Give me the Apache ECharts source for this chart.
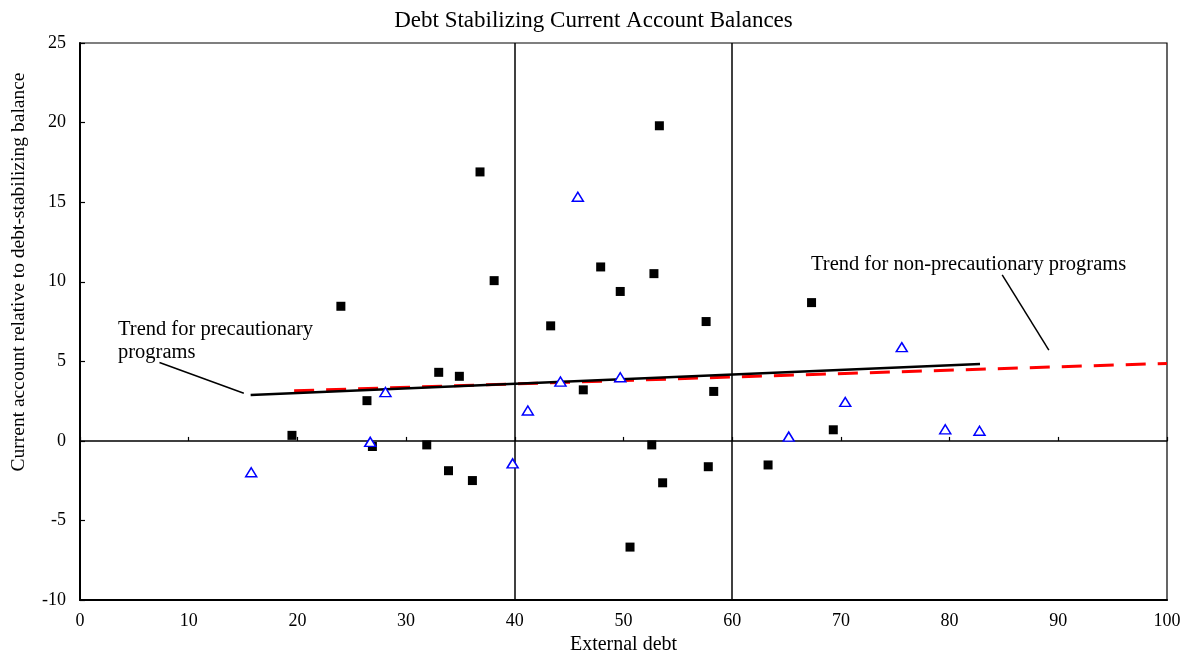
<!DOCTYPE html>
<html>
<head>
<meta charset="utf-8">
<script src="https://cdn.jsdelivr.net/npm/echarts@6/dist/echarts.min.js"></script>
<style>
  html, body { margin: 0; padding: 0; background: #fff; }
  #chart { width: 1187px; height: 660px; }
</style>
</head>
<body>
<div id="chart"></div>
<script>
// Non-precautionary programs (filled squares)
const nonPrecX = [19.5, 24.0, 26.4, 26.9, 31.9, 33.0, 33.9, 34.9, 36.1, 36.8, 38.1, 43.3, 46.3, 47.9, 49.7, 50.6, 52.6, 52.8, 53.3, 53.6, 57.6, 57.8, 58.3, 63.3, 67.3, 69.3];
const nonPrecY = [0.35, 8.46, 2.53, -0.35, -0.25, 4.31, -1.87, 4.06, -2.49, 16.9, 10.07, 7.23, 3.21, 10.93, 9.39, -6.67, -0.25, 10.51, 19.8, -2.63, 7.5, -1.62, 3.11, -1.51, 8.69, 0.70];

// Precautionary programs (open triangles)
const precX = [15.75, 26.7, 28.1, 39.8, 41.2, 44.2, 45.8, 49.7, 65.2, 70.4, 75.6, 79.6, 82.75];
const precY = [-1.97, -0.06, 3.07, -1.41, 1.91, 3.73, 15.34, 4.0, 0.27, 2.45, 5.89, 0.73, 0.64];

// Fitted trends
const precTrendX = [15.7, 82.8];
const precTrendY = [2.88, 4.83];
const nonPrecTrendX = [19.7, 100];
const nonPrecTrendY = [3.15, 4.87];

// Axis setup
const xTicks = { min: 0, max: 100, interval: 10 };
const yTicks = { min: -10, max: 25, interval: 5 };
const dividers = [40, 60];

const zip = (xs, ys) => xs.map((x, i) => [x, ys[i]]);
const FONT = '"Liberation Serif", "Times New Roman", serif';

const chart = echarts.init(document.getElementById('chart'), null, { renderer: 'canvas', width: 1187, height: 660 });

chart.setOption({
  backgroundColor: '#fff',
  animation: false,
  title: {
    text: 'Debt Stabilizing Current Account Balances',
    left: 'center',
    top: 4,
    textStyle: { fontFamily: FONT, fontSize: 23, fontWeight: 'normal', color: '#000' }
  },
  grid: {
    left: 80, width: 1087, top: 43, height: 563,
    show: true, borderColor: '#000', borderWidth: 1.2, backgroundColor: 'transparent'
  },
  xAxis: [
    {
      type: 'value', min: xTicks.min, max: xTicks.max, interval: xTicks.interval,
      position: 'bottom',
      name: 'External debt', nameLocation: 'middle', nameGap: 33,
      nameTextStyle: { fontFamily: FONT, fontSize: 20, color: '#000' },
      axisLine: { onZero: false, lineStyle: { color: '#000', width: 2 } },
      axisTick: { show: false },
      axisLabel: { fontFamily: FONT, fontSize: 18, color: '#000', margin: 12 },
      splitLine: { show: false }
    },
    {
      // zero line carrying the x ticks
      type: 'value', min: xTicks.min, max: xTicks.max, interval: xTicks.interval,
      position: 'top',
      axisLine: { onZero: true, lineStyle: { color: '#000', width: 1.5 } },
      axisTick: { show: true, length: 4, lineStyle: { color: '#000', width: 1.2 } },
      axisLabel: { show: false },
      splitLine: { show: false }
    }
  ],
  yAxis: {
    type: 'value', min: yTicks.min, max: yTicks.max, interval: yTicks.interval,
    axisLine: { onZero: false, lineStyle: { color: '#000', width: 2 } },
    axisTick: { show: true, inside: true, length: 5, lineStyle: { color: '#000', width: 1.2 } },
    axisLabel: { fontFamily: FONT, fontSize: 18, color: '#000', margin: 14 },
    splitLine: { show: false }
  },
  graphic: [
    {
      type: 'text', x: 19, y: 272, rotation: Math.PI / 2,
      style: {
        text: 'Current account relative to debt-stabilizing balance',
        fontFamily: FONT, fontSize: 19.5, fill: '#000',
        align: 'center', verticalAlign: 'middle'
      }
    },
    {
      type: 'text', left: 118, top: 318,
      style: {
        text: 'Trend for precautionary\nprograms',
        fontFamily: FONT, fontSize: 20.5, lineHeight: 23, fill: '#000'
      }
    },
    {
      type: 'text', left: 811, top: 254,
      style: {
        text: 'Trend for non-precautionary programs',
        fontFamily: FONT, fontSize: 20.5, fill: '#000'
      }
    }
  ],
  series: [
    {
      name: 'Dividers', type: 'line', data: [], silent: true,
      markLine: {
        silent: true, symbol: 'none', label: { show: false },
        lineStyle: { color: '#000', width: 1.5, type: 'solid' },
        data: dividers.map(v => ({ xAxis: v }))
      }
    },
    {
      name: 'Trend for non-precautionary programs', type: 'line',
      data: zip(nonPrecTrendX, nonPrecTrendY),
      symbol: 'none', silent: true, z: 3,
      lineStyle: { color: '#ff0000', width: 3, type: [20, 12] }
    },
    {
      name: 'Trend for precautionary programs', type: 'line',
      data: zip(precTrendX, precTrendY),
      symbol: 'none', silent: true, z: 4,
      lineStyle: { color: '#000', width: 2.5 }
    },
    {
      name: 'Annotation arrows', type: 'line', data: [], silent: true,
      markLine: {
        silent: true, label: { show: false },
        symbol: ['none', 'arrow'], symbolSize: [0, 10],
        lineStyle: { color: '#000', width: 1.5, type: 'solid' },
        data: [
          [{ coord: [7.31, 4.93] }, { coord: [15.07, 3.0] }],
          [{ coord: [84.84, 10.43] }, { coord: [89.13, 5.70] }]
        ]
      }
    },
    {
      name: 'Non-precautionary', type: 'scatter',
      data: zip(nonPrecX, nonPrecY),
      symbol: 'rect', symbolSize: 9, z: 5,
      itemStyle: { color: '#000', opacity: 1 }
    },
    {
      name: 'Precautionary', type: 'scatter',
      data: zip(precX, precY),
      symbol: 'triangle', symbolSize: [11, 9], z: 5,
      itemStyle: { color: '#fff', borderColor: '#0000ff', borderWidth: 1.5, opacity: 1 }
    }
  ]
});
</script>
</body>
</html>
